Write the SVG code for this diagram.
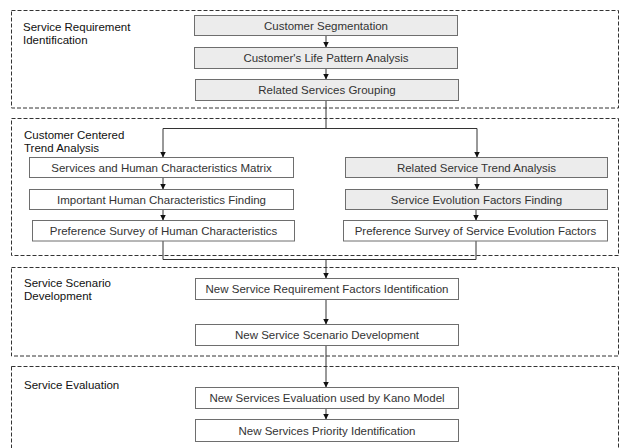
<svg xmlns="http://www.w3.org/2000/svg" width="620" height="448" viewBox="0 0 620 448">
  <style>
    .phase { fill: none; stroke: #333; stroke-width: 1; stroke-dasharray: 4 2; }
    .phase-label { font-family: "Liberation Sans", Arial, sans-serif; font-size: 11.5px; fill: #111; }
    .box { stroke: #6e6e6e; stroke-width: 1; }
    .grey { fill: #ececec; }
    .white { fill: #ffffff; }
    .box-text { font-family: "Liberation Sans", Arial, sans-serif; font-size: 11.5px; fill: #333; text-anchor: middle; }
    .link { fill: none; stroke: #333; stroke-width: 1; }
    .arrow { marker-end: url(#head); }
  </style>
  <defs>
    <marker id="head" markerUnits="userSpaceOnUse" markerWidth="6" markerHeight="6" refX="6" refY="3" orient="auto">
      <path d="M0,0 L6,3 L0,6 z" fill="#111"/>
    </marker>
  </defs>

  <rect width="620" height="448" fill="#ffffff"/>

  <!-- Phase frames -->
  <g id="phases">
    <g id="phase-requirement">
      <rect class="phase" x="11.5" y="10.5" width="607" height="97.5"/>
      <text class="phase-label" x="23" y="31">Service Requirement</text>
      <text class="phase-label" x="23" y="44">Identification</text>
    </g>
    <g id="phase-trend">
      <rect class="phase" x="11.5" y="118.5" width="607" height="137"/>
      <text class="phase-label" x="24" y="139">Customer Centered</text>
      <text class="phase-label" x="24" y="152">Trend Analysis</text>
    </g>
    <g id="phase-scenario">
      <rect class="phase" x="11.5" y="267.5" width="607" height="88.5"/>
      <text class="phase-label" x="24" y="287">Service Scenario</text>
      <text class="phase-label" x="24" y="300">Development</text>
    </g>
    <g id="phase-evaluation">
      <rect class="phase" x="11.5" y="366.5" width="607" height="100"/>
      <text class="phase-label" x="24" y="389">Service Evaluation</text>
    </g>
  </g>

  <!-- Connectors -->
  <g id="connectors">
    <line class="link arrow" x1="326" y1="35.5" x2="326" y2="47.5"/>
    <line class="link arrow" x1="326" y1="68.5" x2="326" y2="79.5"/>
    <polyline class="link" points="326,100.5 326,128.5"/>
    <polyline class="link arrow" points="326,128.5 163,128.5 163,157.5"/>
    <polyline class="link arrow" points="326,128.5 477,128.5 477,157.5"/>
    <line class="link arrow" x1="163" y1="177.5" x2="163" y2="189.5"/>
    <line class="link arrow" x1="163" y1="209.5" x2="163" y2="220.5"/>
    <line class="link arrow" x1="477" y1="177.5" x2="477" y2="189.5"/>
    <line class="link arrow" x1="476" y1="209.5" x2="476" y2="220.5"/>
    <polyline class="link" points="163,241 163,259.5 476,259.5 476,241"/>
    <line class="link arrow" x1="326" y1="259.5" x2="326" y2="278.5"/>
    <line class="link arrow" x1="326" y1="299.5" x2="326" y2="324.5"/>
    <line class="link arrow" x1="326" y1="345.5" x2="326" y2="387.5"/>
    <line class="link arrow" x1="326" y1="408.5" x2="326" y2="419.5"/>
  </g>

  <!-- Service requirement identification -->
  <g id="customer-segmentation">
    <rect class="box grey" x="194.5" y="15.5" width="263" height="20"/>
    <text class="box-text" x="326" y="29.5">Customer Segmentation</text>
  </g>
  <g id="life-pattern-analysis">
    <rect class="box grey" x="194.5" y="47.5" width="263" height="21"/>
    <text class="box-text" x="326" y="62">Customer's Life Pattern Analysis</text>
  </g>
  <g id="related-services-grouping">
    <rect class="box grey" x="195.5" y="79.5" width="263" height="21"/>
    <text class="box-text" x="327" y="94">Related Services Grouping</text>
  </g>

  <!-- Customer centered trend analysis: human side -->
  <g id="human-matrix">
    <rect class="box white" x="29.5" y="157.5" width="264" height="20"/>
    <text class="box-text" x="161.5" y="171.5">Services and Human Characteristics Matrix</text>
  </g>
  <g id="human-finding">
    <rect class="box white" x="29.5" y="189.5" width="264" height="20"/>
    <text class="box-text" x="161.5" y="203.5">Important Human Characteristics Finding</text>
  </g>
  <g id="human-survey">
    <rect class="box white" x="32.5" y="220.5" width="262" height="20.5"/>
    <text class="box-text" x="163.5" y="234.5">Preference Survey of Human Characteristics</text>
  </g>

  <!-- Customer centered trend analysis: service side -->
  <g id="service-trend">
    <rect class="box grey" x="345.5" y="157.5" width="262" height="20"/>
    <text class="box-text" x="476.5" y="171.5">Related Service Trend Analysis</text>
  </g>
  <g id="evolution-finding">
    <rect class="box grey" x="345.5" y="189.5" width="262" height="20"/>
    <text class="box-text" x="476.5" y="203.5">Service Evolution Factors Finding</text>
  </g>
  <g id="evolution-survey">
    <rect class="box white" x="343.5" y="220.5" width="264" height="20.5"/>
    <text class="box-text" x="475.5" y="234.5">Preference Survey of Service Evolution Factors</text>
  </g>

  <!-- Service scenario development -->
  <g id="requirement-factors">
    <rect class="box white" x="195.5" y="278.5" width="263" height="21"/>
    <text class="box-text" x="327" y="293">New Service Requirement Factors Identification</text>
  </g>
  <g id="scenario-development">
    <rect class="box white" x="195.5" y="324.5" width="263" height="21"/>
    <text class="box-text" x="327" y="339">New Service Scenario Development</text>
  </g>

  <!-- Service evaluation -->
  <g id="kano-evaluation">
    <rect class="box white" x="195.5" y="387.5" width="263" height="21"/>
    <text class="box-text" x="327" y="402">New Services Evaluation used by Kano Model</text>
  </g>
  <g id="priority-identification">
    <rect class="box white" x="195.5" y="419.5" width="263" height="22"/>
    <text class="box-text" x="327" y="434.5">New Services Priority Identification</text>
  </g>
</svg>
